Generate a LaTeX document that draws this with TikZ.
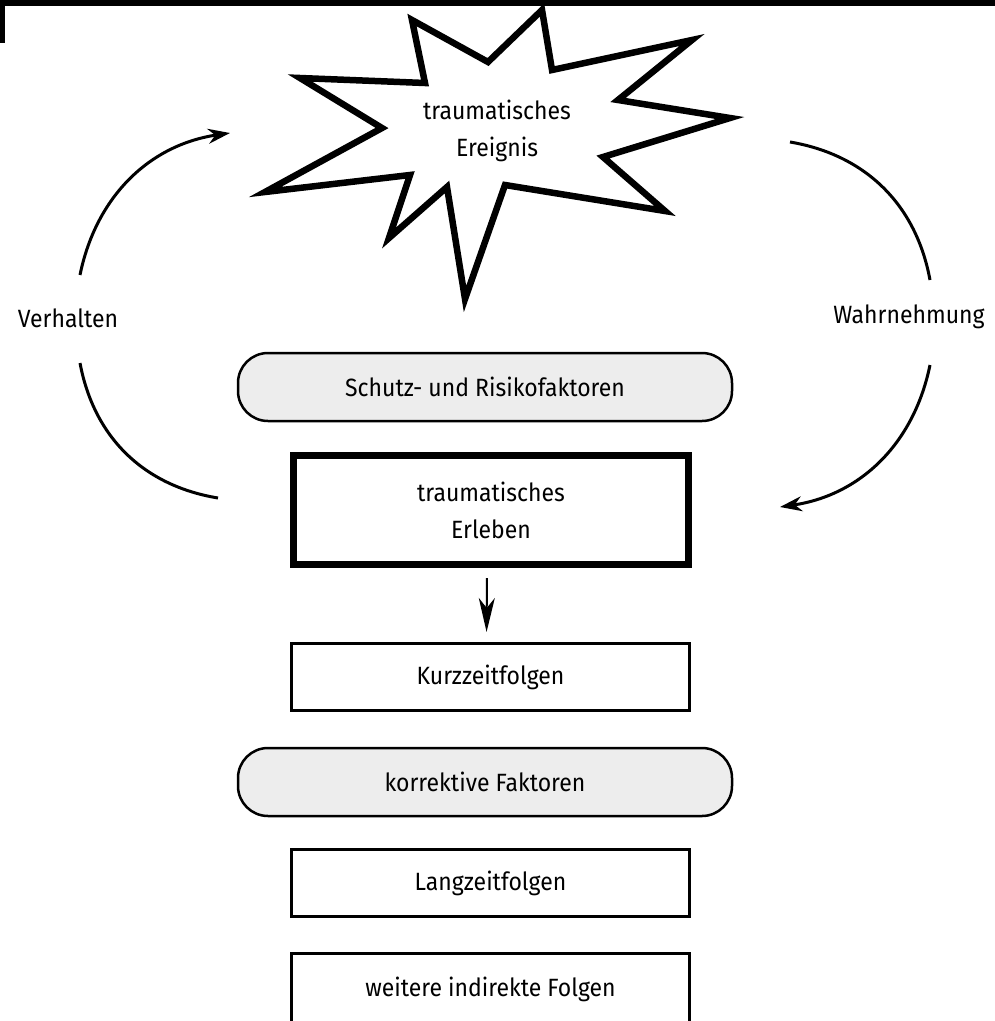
\documentclass[tikz,border=0pt]{standalone}
\usepackage{fontspec}
\setmainfont{Fira Sans}[FakeStretch=0.92]
\usetikzlibrary{arrows.meta}

\tikzset{
  folge/.style={draw, line width=3pt, minimum width=398pt, minimum height=67pt, inner sep=0pt, align=center},
  faktor/.style={draw, line width=2.5pt, fill=black!7, rounded corners=30pt, minimum width=494pt, minimum height=68pt, inner sep=0pt},
  kreis/.style={line width=3pt},
  pfeil/.style={-{Stealth[length=22pt,width=15pt]}},
}

\begin{document}
\begin{tikzpicture}[x=1pt,y=-1pt, font=\fontsize{25}{37}\selectfont]
		\clip (0,0) rectangle (995,1021);
		% Rand oben links
		\fill (0,0) rectangle (995,5.5);
		\fill (0,0) rectangle (5,43);
		
		% Stern
		\draw[line width=6.5pt, line join=miter, miter limit=20]
		(412,20) -- (488,62) -- (542,10) -- (552,70) -- (692,40) -- (618,100) --
		(730,118) -- (603,157) -- (665,211) -- (505,185) -- (465,299) --
		(447,187) -- (389,238) -- (410,175) -- (265,192) -- (382,128) --
		(300,78) -- (425,83) -- cycle;
		\node[align=center] (ereignis) at (497,131) {traumatisches\\Ereignis};
		
		\node[faktor] (schutz) at (485,387) {Schutz- und Risikofaktoren};
		\node[folge, line width=7pt, minimum width=395pt, minimum height=109pt] (erleben) at (491,510) {traumatisches\\Erleben};
		\node[folge] (kurz) at (490.5,677) {Kurzzeitfolgen};
		\node[faktor] (korrektiv) at (485,782) {korrektive Faktoren};
		\node[folge] (lang) at (490.5,883) {Langzeitfolgen};
		\node[folge, minimum height=72pt] (weitere) at (490.5,989.5) {weitere indirekte Folgen};
		
		\draw[-{Stealth[length=34pt,width=16pt,inset=10pt]}, line width=2pt, shorten <=10pt, shorten >=10pt]
		([xshift=-4pt]erleben.south) -- ([xshift=-4pt]kurz.north);
		
		% Kreislauf
		\node (verhalten) at (68,318) {Verhalten};
		\node (wahrnehmung) at (909,317) {Wahrnehmung};
		\coordinate (vo) at (80,275);
		\coordinate (vu) at (80,363);
		\coordinate (wo) at (930,280);
		\coordinate (wu) at (930,365);
		\coordinate (so) at (230,133);
		\coordinate (sw) at (790,142);
		\coordinate (eu) at (218,498);
		\coordinate (ew) at (780,507);
		\draw[kreis, pfeil] (vo) to[bend left=35] (so);
		\draw[kreis] (eu) to[bend left=35] (vu);
		\draw[kreis] (sw) to[bend left=35] (wo);
		\draw[kreis, pfeil] (wu) to[bend left=35] (ew);
\end{tikzpicture}
\end{document}
